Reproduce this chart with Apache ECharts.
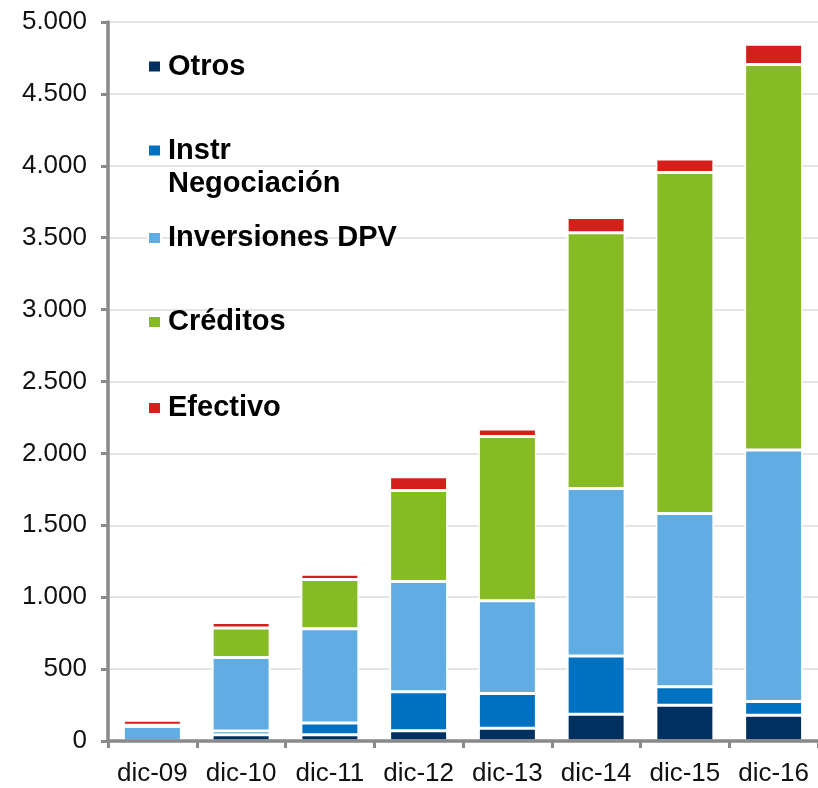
<!DOCTYPE html>
<html>
<head>
<meta charset="utf-8">
<script src="https://cdn.jsdelivr.net/npm/echarts@6/dist/echarts.min.js"></script>
<style>
html,body{margin:0;padding:0;background:#fff;}
#chart{width:818px;height:788px;}
</style>
</head>
<body>
<div id="chart"></div>
<script>
var categories = ['dic-09','dic-10','dic-11','dic-12','dic-13','dic-14','dic-15','dic-16'];
var otros      = [0, 43, 44, 71, 89, 186, 248, 179];
var instrNeg   = [0, 26, 81, 271, 242, 405, 130, 95];
var inversiones= [100, 511, 656, 768, 645, 1165, 1204, 1749];
var creditos   = [10, 205, 342, 632, 1142, 1778, 2372, 2682];
var efectivo   = [35, 39, 36, 95, 51, 106, 93, 140];
var yTicks = [0, 500, 1000, 1500, 2000, 2500, 3000, 3500, 4000, 4500, 5000];

var seriesNames = ['Otros', 'Instr Negociación', 'Inversiones DPV', 'Créditos', 'Efectivo'];
var seriesData = [otros, instrNeg, inversiones, creditos, efectivo];
var colors = ['#00305F', '#0070C0', '#5FADE3', '#86BB26', '#D41F1A'];

var chart = echarts.init(document.getElementById('chart'), null, {renderer: 'canvas'});

function fmt(v) {
  return String(v).replace(/\B(?=(\d{3})+(?!\d))/g, '.');
}

function legendText(lh) {
  return {
    fontFamily: 'Liberation Sans, Arial, sans-serif',
    fontWeight: 'bold',
    fontSize: 29,
    color: '#000',
    lineHeight: lh,
    padding: [0, 0, 0, 2]
  };
}
function mkLegend(name, top, formatter, lh) {
  var l = {
    orient: 'vertical',
    left: 147,
    padding: 0,
    icon: 'rect',
    itemWidth: 13,
    itemHeight: 12,
    data: [name],
    top: top,
    textStyle: legendText(lh || 34)
  };
  if (formatter) l.formatter = formatter;
  return l;
}

var legends = [
  mkLegend('Otros', 49.5),
  mkLegend('Instr Negociación', 101, function () { return '\nInstr\nNegociación'; }, 33),
  mkLegend('Inversiones DPV', 221),
  mkLegend('Créditos', 305),
  mkLegend('Efectivo', 391)
];

var series = seriesNames.map(function (n, i) {
  return {
    name: n,
    type: 'bar',
    stack: 'total',
    barWidth: 58,
    data: seriesData[i],
    itemStyle: { color: colors[i], borderColor: '#ffffff', borderWidth: 1.5 },
    emphasis: { disabled: true }
  };
});

chart.setOption({
  animation: false,
  color: colors,
  legend: legends,
  grid: { left: 108, right: 0, top: 22, bottom: 47, containLabel: false },
  xAxis: {
    type: 'category',
    data: categories,
    z: 10,
    axisLine: { show: true, lineStyle: { color: '#898989', width: 3.5 } },
    axisTick: { show: true, length: 7, lineStyle: { color: '#898989', width: 3 } },
    axisLabel: {
      interval: 0,
      fontFamily: 'Liberation Sans, Arial, sans-serif',
      fontSize: 26, color: '#111', margin: 20
    }
  },
  yAxis: {
    type: 'value',
    min: yTicks[0],
    max: yTicks[yTicks.length - 1],
    interval: 500,
    axisLine: { show: true, lineStyle: { color: '#898989', width: 3.5 } },
    axisTick: { show: true, length: 7, lineStyle: { color: '#898989', width: 3 } },
    axisLabel: {
      fontFamily: 'Liberation Sans, Arial, sans-serif',
      fontSize: 26, color: '#111', margin: 21,
      formatter: function (v) { return fmt(v); }
    },
    splitLine: { show: true, lineStyle: { color: '#dcdcdc', width: 1.5 } }
  },
  series: series
});
</script>
</body>
</html>
